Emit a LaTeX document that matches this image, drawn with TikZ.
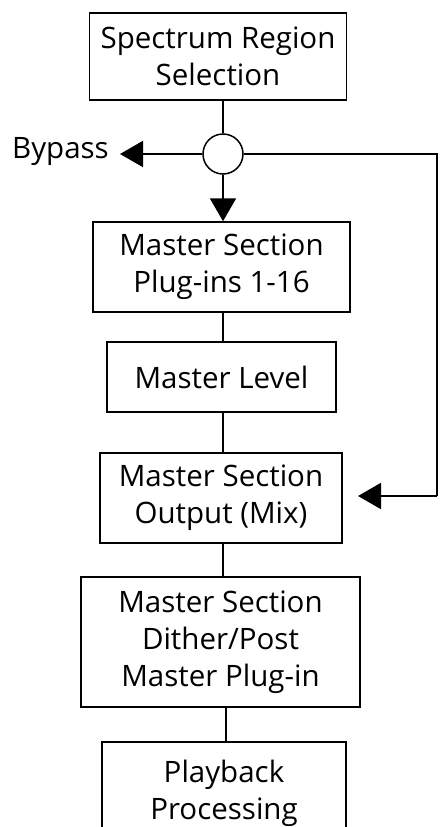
\documentclass[tikz,border=0pt]{standalone}
\usepackage{fontspec}
\setmainfont{Open Sans}
\usetikzlibrary{arrows.meta}
\begin{document}
\begin{tikzpicture}[x=1pt,y=-1pt,
  blk/.style={draw=black,line width=1.5pt,align=center,inner sep=0pt,
    font=\fontsize{29.5}{37}\selectfont},
  conn/.style={line width=2pt},
  arr/.style={line width=2pt,-{Triangle[length=23pt,width=26pt]}}]
\useasboundingbox (0,0) rectangle (440,827);
\clip (0,0) rectangle (440,827);
\node[blk,minimum width=257pt,minimum height=87pt] (b1) at (218,56.5) {Spectrum Region\\Selection};
\node[circle,draw=black,line width=1.5pt,minimum size=40pt,inner sep=0pt] (c) at (223,154) {};
\node[blk,minimum width=257pt,minimum height=90pt] (b2) at (221.5,267) {Master Section\\Plug-ins 1-16};
\node[blk,minimum width=229pt,minimum height=70pt] (b3) at (221.5,377) {Master Level};
\node[blk,minimum width=242pt,minimum height=90pt] (b4) at (221,498) {Master Section\\Output (Mix)};
\node[blk,minimum width=279pt,minimum height=130pt] (b5) at (220.5,642) {Master Section\\Dither/Post\\Master Plug-in};
\node[blk,minimum width=244pt,minimum height=96pt,text depth=0pt] (b6) at (224,790) {Playback\\Processing};
\node[font=\fontsize{29.5}{37}\selectfont,anchor=east,inner sep=0pt] (bp) at (109,152) {Bypass};
\coordinate (bpt) at (120,154);
\coordinate (r1) at (437,154);
\coordinate (r2) at (437,496);
\coordinate (rt) at (358,496);
\draw[conn] (b1.south -| c) -- (c.north);
\draw[arr] (c.west) -- (bpt);
\draw[arr] (c.south) -- (c.south |- b2.north);
\draw[conn] (c.east) -- (r1) -- (r2);
\draw[arr] (r2) -- (rt);
\draw[conn] (b2.south -| c) -- (b3.north -| c);
\draw[conn] (b3.south -| c) -- (b4.north -| c);
\draw[conn] (b4.south -| c) -- (b5.north -| c);
\draw[conn] (b5.south -| 226,0) -- (b6.north -| 226,0);
\end{tikzpicture}
\end{document}
